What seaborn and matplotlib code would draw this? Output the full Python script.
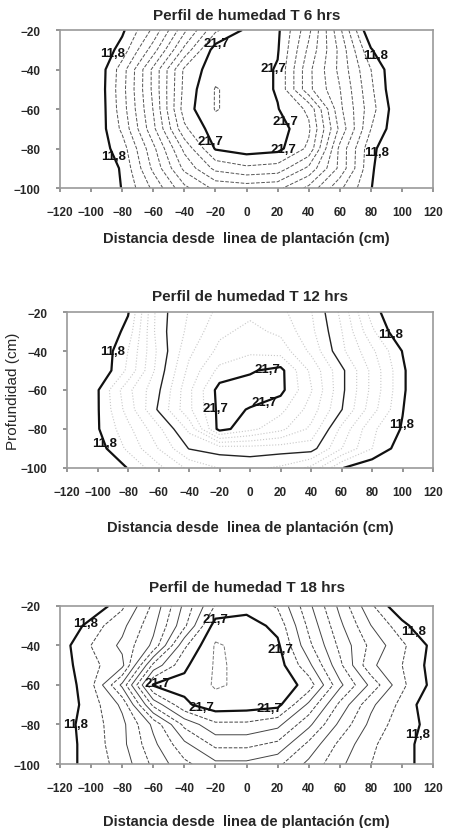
import numpy as np
import matplotlib
matplotlib.use("Agg")
import matplotlib.pyplot as plt
import seaborn as sns

# Malla de medición
x_cm = [-120, -100, -80, -60, -40, -20, 0, 20, 40, 60, 80, 100, 120]
profundidad_cm = [-20, -30, -40, -50, -60, -70, -80, -90, -100]

# Humedad (%) por fila de profundidad, T 6 hrs
humedad_6h = [
    [9.0, 10.0, 11.6, 14.0, 17.5, 20.5, 21.9, 21.9, 19.0, 15.0, 10.8, 9.5, 8.5],
    [9.2, 10.6, 12.2, 15.3, 19.0, 22.2, 22.2, 21.8, 18.5, 15.5, 11.9, 10.0, 9.0],
    [9.5, 10.5, 13.3, 17.0, 20.9, 22.3, 22.3, 21.6, 18.0, 15.5, 12.8, 10.5, 9.5],
    [9.5, 10.5, 13.4, 17.0, 21.0, 22.75, 22.3, 21.6, 18.0, 15.8, 13.0, 10.5, 9.5],
    [9.5, 10.5, 13.3, 16.8, 21.2, 22.75, 22.3, 21.75, 20.5, 16.0, 13.2, 10.8, 9.5],
    [9.5, 10.7, 13.0, 16.5, 20.5, 22.3, 22.3, 22.2, 20.9, 16.5, 12.8, 10.8, 9.5],
    [9.5, 11.0, 12.3, 15.5, 19.0, 21.8, 22.2, 22.0, 20.5, 15.5, 12.1, 10.5, 9.5],
    [9.5, 10.5, 11.95, 15.0, 18.0, 20.0, 20.5, 20.3, 18.5, 15.5, 11.95, 10.5, 9.5],
    [9.5, 10.5, 11.85, 14.0, 16.5, 18.0, 18.2, 18.0, 16.5, 14.0, 11.85, 10.2, 9.5],
]

# T 12 hrs
humedad_12h = [
    [9.5, 10.5, 11.7, 16.3, 17.8, 19.0, 19.5, 19.0, 17.8, 15.5, 12.3, 10.5, 9.5],
    [9.5, 10.5, 12.2, 16.3, 18.0, 19.5, 20.0, 19.5, 18.0, 15.8, 13.0, 10.8, 9.5],
    [9.5, 10.8, 12.8, 16.0, 18.5, 20.0, 20.5, 20.3, 18.5, 16.0, 14.0, 11.75, 10.0],
    [9.5, 10.8, 13.0, 16.2, 19.0, 21.0, 21.6, 22.0, 19.5, 17.0, 14.5, 12.0, 10.0],
    [9.5, 11.7, 14.5, 16.6, 19.5, 22.1, 22.1, 22.0, 19.8, 17.0, 14.5, 12.0, 10.0],
    [9.5, 11.7, 14.2, 16.9, 19.5, 22.0, 21.65, 21.0, 19.3, 16.8, 14.2, 11.85, 10.0],
    [9.5, 11.7, 13.5, 15.5, 18.0, 22.1, 21.0, 20.0, 18.5, 15.5, 13.0, 11.7, 9.5],
    [9.5, 11.3, 13.0, 14.8, 16.8, 17.2, 17.3, 17.2, 17.2, 14.8, 12.8, 11.2, 9.5],
    [9.5, 10.5, 11.85, 13.5, 15.0, 15.8, 16.0, 15.6, 14.5, 11.85, 11.0, 10.5, 9.5],
]

# T 18 hrs
humedad_18h = [
    [9.5, 10.8, 12.6, 15.0, 18.0, 20.8, 21.3, 20.6, 18.0, 15.5, 13.0, 10.8, 9.5],
    [10.5, 12.3, 13.5, 15.5, 18.5, 22.2, 22.2, 21.4, 18.5, 16.0, 13.8, 12.2, 10.5],
    [11.3, 12.8, 14.0, 16.0, 20.5, 22.8, 22.4, 21.9, 19.0, 16.5, 14.5, 13.0, 11.5],
    [11.3, 12.5, 13.5, 19.0, 21.5, 22.8, 22.5, 22.2, 20.0, 17.0, 14.0, 12.8, 11.4],
    [11.0, 12.5, 16.0, 21.8, 22.0, 22.8, 22.5, 22.4, 21.3, 18.0, 15.5, 13.0, 11.5],
    [11.0, 12.3, 14.0, 19.0, 21.5, 22.3, 22.2, 22.0, 19.5, 16.5, 14.0, 12.5, 11.0],
    [11.3, 12.3, 13.5, 16.0, 19.0, 20.5, 20.5, 20.0, 18.0, 15.5, 13.5, 12.2, 11.5],
    [11.3, 12.2, 13.5, 15.5, 17.5, 19.0, 19.0, 18.5, 16.5, 14.5, 13.0, 12.0, 11.5],
    [11.3, 12.2, 13.2, 15.0, 16.5, 17.5, 17.5, 17.0, 15.5, 14.0, 12.8, 12.0, 11.5],
]

titulos = ["Perfil de humedad T 6 hrs", "Perfil de humedad T 12 hrs",
           "Perfil de humedad T 18 hrs"]
niveles = np.linspace(11.8, 21.7, 11)
nivel_extra = 22.69

# posiciones de las etiquetas de contorno
etiquetas_6h = [(-85, -32), (85, -32), (-80, -82), (86, -82),
                (-18, -29), (19, -40), (35, -62), (-20, -75), (27, -81)]
etiquetas_12h = [(-94, -40), (93, -31), (-98, -88), (104, -78),
                 (11, -48), (-22, -69), (11, -69)]
etiquetas_18h = [(-101, -31), (110, -31), (-107, -80), (110, -85),
                 (-21, -25), (20, -42), (-57, -59), (15, -72), (-31, -76)]

sns.set_theme(style="white")
plt.rcParams['font.family'] = ['Liberation Sans', 'DejaVu Sans']

fig = plt.figure(figsize=(4.53, 8.29), dpi=100)
ax1 = fig.add_axes([0.1325, 0.772, 0.8235, 0.1906])
ax2 = fig.add_axes([0.148, 0.4343, 0.808, 0.1881])
ax3 = fig.add_axes([0.1325, 0.0772, 0.8235, 0.1906])

X, Y = np.meshgrid(x_cm, profundidad_cm)
fmt = lambda v: f"{v:.1f}".replace('.', ',')


def dibujar(ax, datos, estilo, pos_etiquetas, titulo, titlepad, labelpad):
    Z = np.array(datos)
    menores = list(niveles[1:-1])
    if estilo == "6h":
        ax.contour(X, Y, Z, levels=menores + [nivel_extra], colors='#555555',
                   linestyles='--', linewidths=0.7)
    elif estilo == "12h":
        finos = [v for i, v in enumerate(menores) if i != 4]
        ax.contour(X, Y, Z, levels=finos, colors='#c8c8c8',
                   linestyles=':', linewidths=0.8)
        ax.contour(X, Y, Z, levels=[menores[4]], colors='#222222',
                   linestyles='-', linewidths=1.0)
    else:
        lst = ['--' if i % 2 == 0 else '-' for i in range(len(menores))]
        ax.contour(X, Y, Z, levels=menores, colors='#444444',
                   linestyles=lst, linewidths=0.7)
        ax.contour(X, Y, Z, levels=[nivel_extra], colors='#777777',
                   linestyles='--', linewidths=0.7)
    mayores = ax.contour(X, Y, Z, levels=[niveles[0], niveles[-1]],
                         colors='#111111', linewidths=1.6)
    textos = ax.clabel(mayores, manual=pos_etiquetas, fmt=fmt, fontsize=9.5,
                       inline=False)
    for t in textos:
        t.set_fontweight('bold')
        t.set_rotation(0)

    ax.set_xlim(-120, 120)
    ax.set_ylim(-100, -20)
    ax.set_xticks(range(-120, 121, 20))
    ax.set_yticks([-100, -80, -60, -40, -20])
    ax.tick_params(bottom=True, left=True, direction='out', length=3,
                   color='#888888', labelsize=8.5)
    ax.tick_params(axis='x', pad=10)
    ax.tick_params(axis='y', pad=11)
    for lbl in ax.get_xticklabels() + ax.get_yticklabels():
        lbl.set_fontweight('bold')
    for s in ax.spines.values():
        s.set_color('#9a9a9a')
        s.set_linewidth(1.2)
    ax.set_title(titulo, fontsize=11, fontweight='bold', pad=titlepad)
    ax.set_xlabel('Distancia desde  linea de plantación (cm)', fontsize=10.5,
                  fontweight='bold', labelpad=labelpad)


dibujar(ax1, humedad_6h, "6h", etiquetas_6h, titulos[0], 8, 9)
dibujar(ax2, humedad_12h, "12h", etiquetas_12h, titulos[1], 9, 16)
dibujar(ax3, humedad_18h, "18h", etiquetas_18h, titulos[2], 11, 14)
ax2.set_ylabel('Profundidad (cm)', fontsize=11)
ax2.yaxis.set_label_coords(-0.128, 0.5)

fig.savefig('out.png', dpi=100)
